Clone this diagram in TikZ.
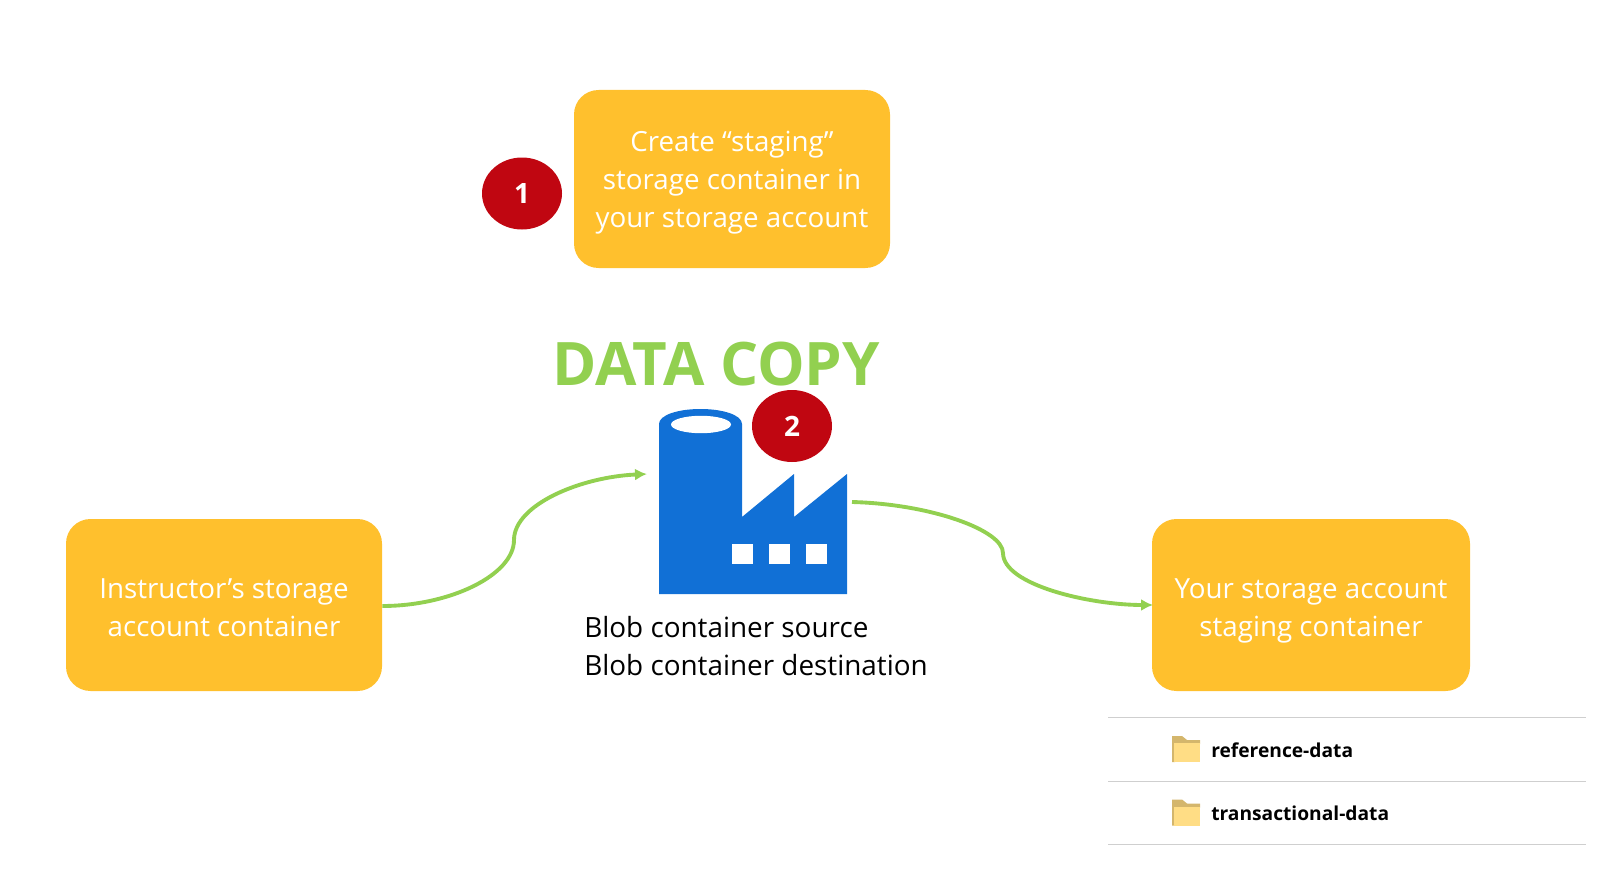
\documentclass[tikz,border=0pt]{standalone}
\usepackage{fontspec}
\setmainfont{Open Sans}
\definecolor{gold}{HTML}{FFC02D}
\definecolor{leaf}{HTML}{92D050}
\definecolor{badge}{HTML}{C00611}
\definecolor{azure}{HTML}{1170D6}
\definecolor{rulegray}{HTML}{CFCFCF}
\definecolor{foldfront}{HTML}{FFDD85}
\definecolor{foldback}{HTML}{D4B66C}
\usetikzlibrary{arrows.meta,shapes.geometric}
\tikzset{
  goldbox/.style={fill=gold,rounded corners=18.4pt,inner sep=0pt,align=center,text=white,font=\fontsize{20.8}{28.4}\selectfont},
  badgenode/.style={ellipse,fill=badge,text=white,inner sep=0pt,minimum width=60pt,minimum height=54pt,font=\fontsize{21}{24}\selectfont\bfseries},
  flow/.style={draw=leaf,line width=2.9pt,-{Latex[length=9pt,width=9pt]}},
  sep/.style={draw=rulegray,line width=1.3pt},
  foldertext/.style={anchor=west,inner sep=0pt,font=\fontsize{14.4}{18}\selectfont\bfseries,text=black}
}
\newcommand{\folderat}[2]{%
  \fill[foldback] (#1,#2) -- (#1+10,#2) -- (#1+15,#2+4) -- (#1+28,#2+4) -- (#1+28,#2+8) -- (#1+3,#2+8) -- (#1+3,#2+26) -- (#1,#2+26) -- cycle;
  \fill[foldfront] (#1+2,#2+7) rectangle (#1+28,#2+26);
}
\begin{document}
\begin{tikzpicture}[x=0.75pt,y=-0.75pt]
\useasboundingbox (0,0) rectangle (1604,874);
\node[goldbox,minimum width=237pt,minimum height=133.5pt] (create) at (732,179) {\rule{0pt}{24.5pt}Create “staging”\\\strut storage container in\\\strut your storage account};
\node[badgenode] (b1) at (522,193.5) {1};
\node[goldbox,minimum width=237pt,minimum height=129pt] (src) at (224,605) {\rule{0pt}{27.5pt}Instructor’s storage\\\strut account container};
\node[goldbox,minimum width=238.5pt,minimum height=129pt] (dst) at (1311,605) {\rule{0pt}{27.5pt}Your storage account\\\strut staging container};
\node[inner sep=0pt,text=leaf,font=\fontsize{45}{50}\selectfont\bfseries] (title) at (716,364) {DATA COPY};
% factory
\node[minimum width=141pt,minimum height=139pt,inner sep=0pt] (factory) at (753,501.5) {};
\fill[azure] (659,594) -- (659,424) .. controls (659,415) and (678,409) .. (700.5,409) .. controls (723,409) and (742,415) .. (742,424) -- (742,517) -- (794,474) -- (794,517) -- (847,474) -- (847,594) -- cycle;
\fill[white] (701,424.5) ellipse [x radius=30, y radius=8.7];
\fill[white] (732,544) rectangle (753,564);
\fill[white] (769,544) rectangle (790,564);
\fill[white] (806,544) rectangle (827,564);
\node[badgenode] (b2) at (792,426) {2};
\node[anchor=west,inner sep=0pt,align=left,font=\fontsize{20.9}{28.4}\selectfont,text=black] (caption) at (584,649) {\strut Blob container source\\\strut Blob container destination};
% connectors
\coordinate (midL) at (514,540);
\coordinate (midR) at (1003,553);
\coordinate (inF) at (647,474);
\coordinate (outF) at (852,502);
\coordinate (inD) at ([xshift=1pt]dst.west);
\coordinate (outS) at ([yshift=-0.75pt]src.east);
\draw[flow] (outS) .. controls (450,606) and (514,575) .. (midL) .. controls (514,505) and (580,477) .. (inF);
\draw[flow] (outF) .. controls (930,504) and (1003,530) .. (midR) .. controls (1003,585) and (1090,605) .. (inD);
% listing
\coordinate (a1) at (1108,717.5); \coordinate (a2) at (1586,717.5);
\coordinate (c1) at (1108,781.5); \coordinate (c2) at (1586,781.5);
\coordinate (d1) at (1108,844.5); \coordinate (d2) at (1586,844.5);
\draw[sep] (a1) -- (a2);
\draw[sep] (c1) -- (c2);
\draw[sep] (d1) -- (d2);
\folderat{1172}{736}
\folderat{1172}{799.5}
\node[foldertext] (refd) at (1211,750) {reference-data};
\node[foldertext] (trans) at (1211,813.5) {transactional-data};
\end{tikzpicture}
\end{document}
